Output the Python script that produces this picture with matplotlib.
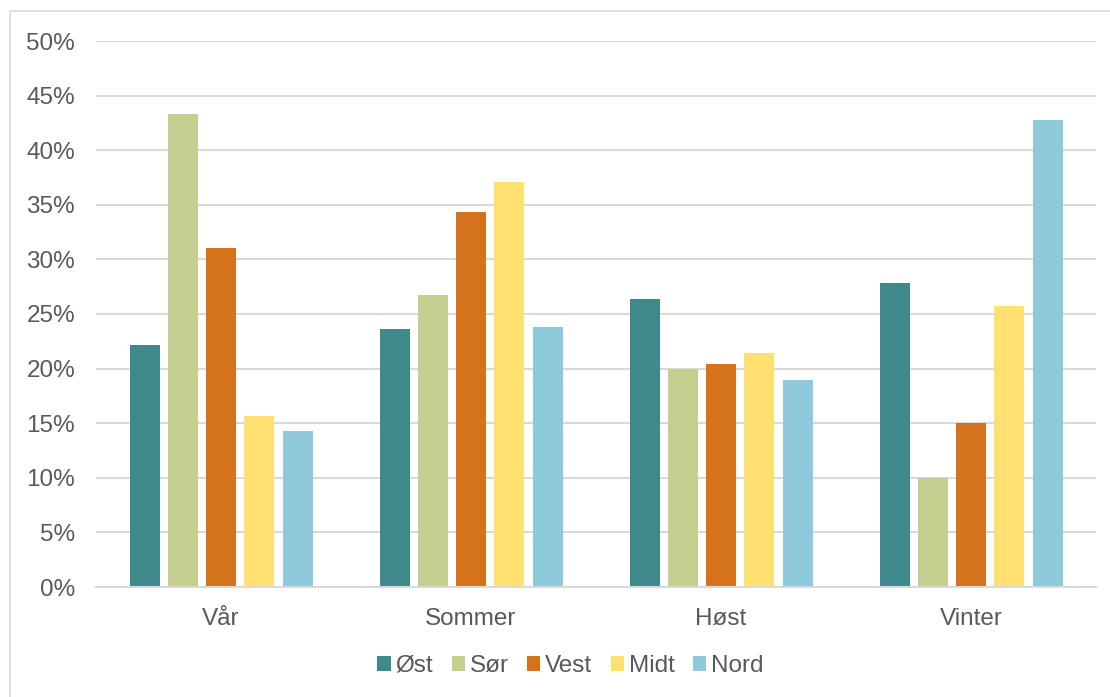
import numpy as np
import matplotlib
matplotlib.use("Agg")
import matplotlib.pyplot as plt
from matplotlib.patches import Patch, Rectangle

# Andel per sesong og region
seasons = ["Vår", "Sommer", "Høst", "Vinter"]
regions = ["Øst", "Sør", "Vest", "Midt", "Nord"]
ost = [22.2, 23.6, 26.4, 27.8]
sor = [43.3, 26.7, 20.0, 10.0]
vest = [31.0, 34.3, 20.4, 15.0]
midt = [15.7, 37.1, 21.4, 25.7]
nord = [14.3, 23.8, 19.0, 42.8]
yticks = [0, 5, 10, 15, 20, 25, 30, 35, 40, 45, 50]

colors = ["#40898B", "#C6CE8F", "#D5731D", "#FFE071", "#8DCADC"]
text_col = "#595959"
grid_col = "#D9D9D9"

plt.rcParams["font.family"] = ["Liberation Sans", "DejaVu Sans"]

fig = plt.figure(figsize=(11.1, 6.97), dpi=100)
ax = fig.add_axes([96 / 1110, 1 - 587 / 697, 1000 / 1110, 546 / 697])

x = np.arange(len(seasons))
step = 0.153
width = 0.12
for i, (vals, col) in enumerate(zip([ost, sor, vest, midt, nord], colors)):
    ax.bar(x + (i - 2) * step, vals, width=width, color=col, zorder=3)

ax.set_xlim(-0.5, len(seasons) - 0.5)
ax.set_ylim(0, 50)
ax.set_yticks(yticks)
ax.set_yticklabels([f"{v}%" for v in yticks])
ax.set_xticks(x)
ax.set_xticklabels(seasons)
ax.tick_params(axis="both", length=0, labelsize=17.5, labelcolor=text_col)
ax.tick_params(axis="y", pad=15)
ax.tick_params(axis="x", pad=15)
ax.yaxis.grid(True, color=grid_col, linewidth=1.5, zorder=0)
for s in ["top", "right", "left"]:
    ax.spines[s].set_visible(False)
ax.spines["bottom"].set_color(grid_col)
ax.spines["bottom"].set_linewidth(1.5)
ax.spines["bottom"].set_zorder(4)

handles = [Patch(facecolor=c, edgecolor="none") for c in colors]
fig.legend(handles, regions, loc="center", bbox_to_anchor=(0.514, 1 - 666 / 697),
           ncol=5, frameon=False, fontsize=17.5, labelcolor=text_col,
           handlelength=0.55, handleheight=0.55, handletextpad=0.2,
           columnspacing=0.75)

# ramme rundt diagrammet
fig.patches.append(Rectangle((10 / 1110, -0.1), 1.2, 1 - 11 / 697 + 0.1,
                             transform=fig.transFigure, fill=False,
                             edgecolor=grid_col, linewidth=1.2))

# rest av overskriften over rammen
fig.text(0.149, 1.01, "g", family="Liberation Serif", fontweight="bold",
         fontsize=14, va="baseline", color="#000000")

fig.savefig("out.png", dpi=100)
